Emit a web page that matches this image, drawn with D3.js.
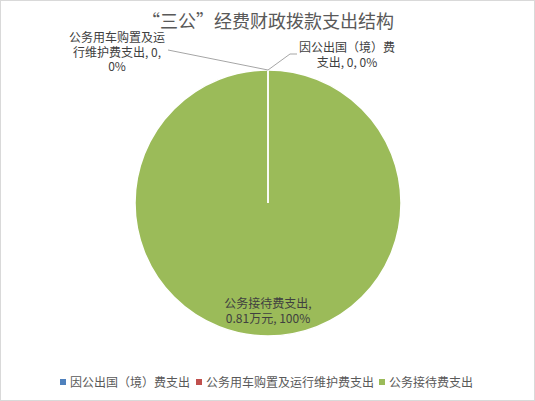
<!DOCTYPE html>
<html>
<head>
<meta charset="utf-8">
<script src="https://cdn.jsdelivr.net/npm/d3@7"></script>
<style>
  html, body { margin: 0; padding: 0; background: #fff; }
  svg { display: block; }
  text { font-family: "Noto Sans CJK SC", "Microsoft YaHei", sans-serif; }
</style>
</head>
<body>
<script>
const categories = ["因公出国（境）费支出", "公务用车购置及运行维护费支出", "公务接待费支出"];
const values = [0, 0, 0.81];
const valueLabels = ["0", "0", "0.81万元"];
const percentLabels = ["0%", "0%", "100%"];
const colors = ["#4F81BD", "#C0504D", "#9BBB59"];
const title = "“三公”经费财政拨款支出结构";

(function () {
const W = 535, H = 401;
const svg = d3.select("body").append("svg").attr("width", W).attr("height", H);

svg.append("rect").attr("x", 0.5).attr("y", 0.5).attr("width", W - 1).attr("height", H - 1)
  .attr("fill", "#fff").attr("stroke", "#D9D9D9");

svg.append("text").attr("x", 268).attr("y", 28).attr("text-anchor", "middle")
  .attr("font-size", 18).attr("fill", "#595959").text(title);

const cx = 268, cy = 203, r = 133;
const pie = d3.pie().sort(null).value(d => d)(values);
const arc = d3.arc().innerRadius(0).outerRadius(r);
const g = svg.append("g").attr("transform", `translate(${cx},${cy})`);

const order = pie.map((d, i) => i).sort((a, b) => pie[b].value - pie[a].value);
g.selectAll("path").data(order.map(i => pie[i])).join("path")
  .attr("d", arc)
  .attr("fill", d => colors[d.index])
  .attr("stroke", "#fff").attr("stroke-width", 1.5);

const edge = [0, -r];
const labelFont = 12, labelColor = "#404040";

function multiline(x, y, lines, anchor) {
  const t = svg.append("text").attr("font-size", labelFont).attr("fill", labelColor)
    .attr("text-anchor", anchor || "middle");
  lines.forEach((l, k) => t.append("tspan").attr("x", x).attr("y", y + k * 14.5).text(l));
}

svg.append("polyline")
  .attr("points", [[cx + edge[0], cy + edge[1]], [290, 54], [297, 54]].map(p => p.join(",")).join(" "))
  .attr("fill", "none").attr("stroke", "#A6A6A6").attr("stroke-width", 1);
multiline(347, 52, ["因公出国（境）费", "支出, " + valueLabels[0] + ", " + percentLabels[0]]);

svg.append("polyline")
  .attr("points", [[cx + edge[0], cy + edge[1]], [168, 50]].map(p => p.join(",")).join(" "))
  .attr("fill", "none").attr("stroke", "#A6A6A6").attr("stroke-width", 1);
multiline(117, 42, ["公务用车购置及运", "行维护费支出, " + valueLabels[1] + ",", percentLabels[1]]);

multiline(268, 308, ["公务接待费支出,", valueLabels[2] + ", " + percentLabels[2]]);

const legendX = [60, 196, 379];
const lg = svg.append("g");
categories.forEach((c, i) => {
  lg.append("rect").attr("x", legendX[i]).attr("y", 379).attr("width", 6).attr("height", 6).attr("fill", colors[i]);
  lg.append("text").attr("x", legendX[i] + 10).attr("y", 386.5).attr("font-size", 12)
    .attr("fill", "#595959").text(c);
});
})();
</script>
</body>
</html>
